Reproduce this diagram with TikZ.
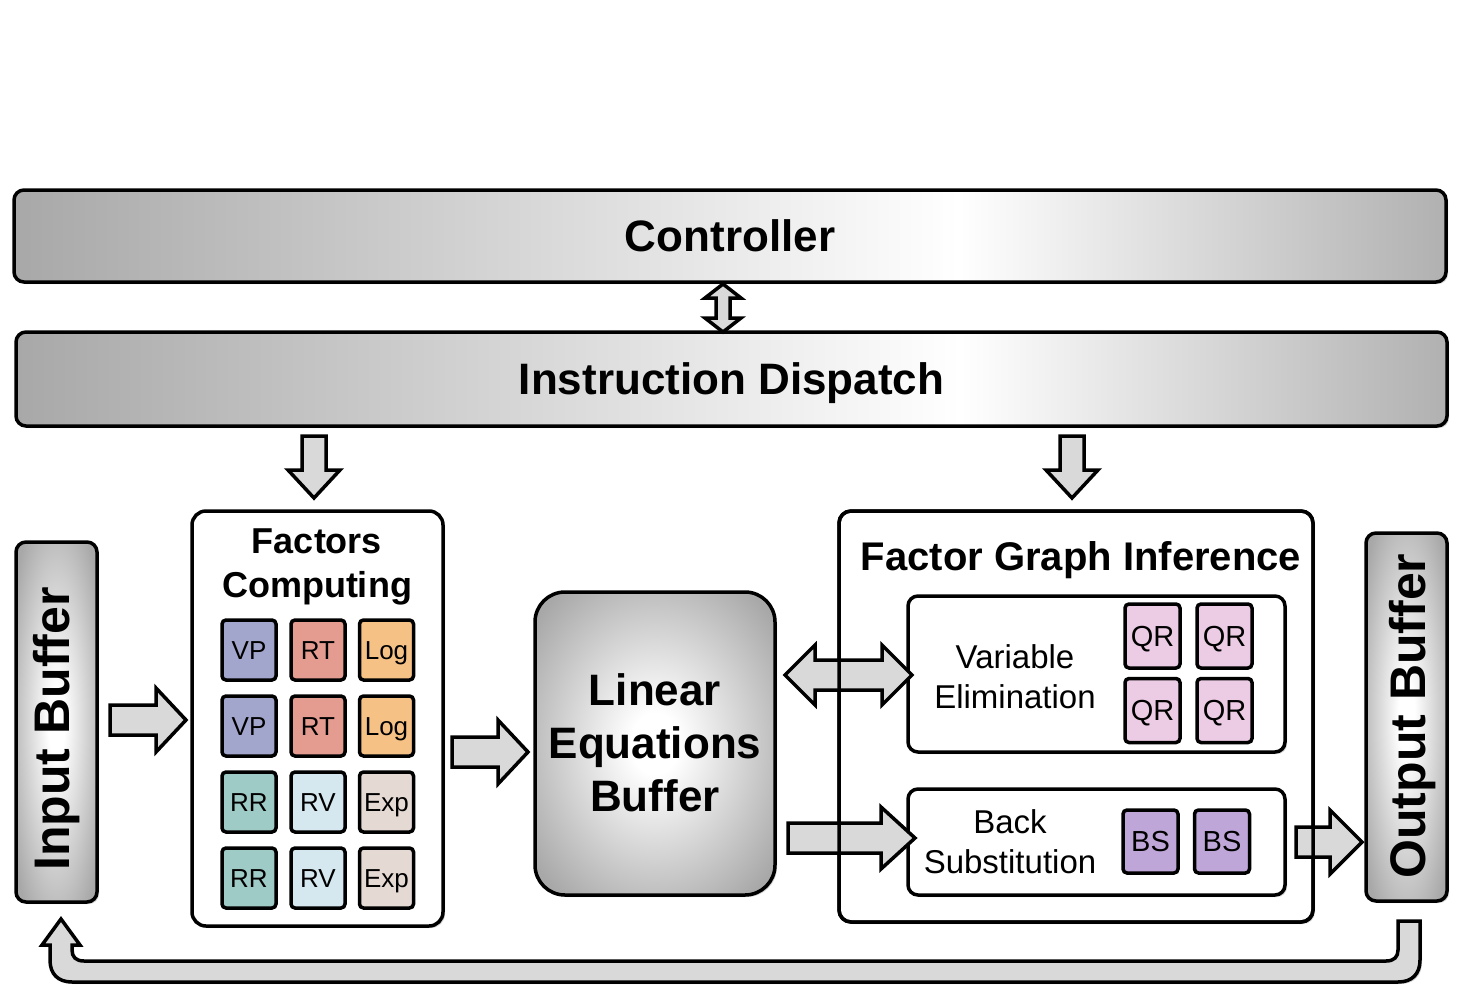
\documentclass[tikz,border=0pt]{standalone}
\usepackage{fontspec}
\setmainfont{Liberation Sans}
\usetikzlibrary{calc,shadows}
\definecolor{cVP}{HTML}{A3A6CC}
\definecolor{cRT}{HTML}{E49C90}
\definecolor{cLog}{HTML}{F6C185}
\definecolor{cRR}{HTML}{9FCBC7}
\definecolor{cRV}{HTML}{D5E8EF}
\definecolor{cExp}{HTML}{E5D9D3}
\definecolor{cQR}{HTML}{ECCCE4}
\definecolor{cBS}{HTML}{BEA6D8}
\definecolor{arrfill}{HTML}{D9D9D9}
\definecolor{gshade}{HTML}{A8A8A8}
\pgfdeclarehorizontalshading{barshade}{100bp}{color(0bp)=(gshade); color(25bp)=(gshade); color(58bp)=(white); color(75bp)=(gshade!90); color(100bp)=(gshade!90)}
\pgfdeclareradialshading{bufshade}{\pgfpoint{0bp}{0bp}}{color(0bp)=(white); color(5bp)=(white); color(32bp)=(gshade); color(50bp)=(gshade)}
\newcommand{\blkR}[5]{\draw[blk] let \p1=(#1), \p2=(#2) in
 (\x1,\y1+#3pt) -- (\x2-#5pt,\y1+#3pt) -- (\x2-#5pt,\y1+#4pt) -- (\x2,\y1) -- (\x2-#5pt,\y1-#4pt) -- (\x2-#5pt,\y1-#3pt) -- (\x1,\y1-#3pt) -- cycle;}
\newcommand{\blkD}[5]{\draw[blk] let \p1=(#1), \p2=(#2) in
 (\x1-#3pt,\y1) -- (\x1-#3pt,\y2+#5pt) -- (\x1-#4pt,\y2+#5pt) -- (\x1,\y2) -- (\x1+#4pt,\y2+#5pt) -- (\x1+#3pt,\y2+#5pt) -- (\x1+#3pt,\y1) -- cycle;}
\newcommand{\blkLR}[5]{\draw[blk] let \p1=(#1), \p2=(#2) in
 (\x1,\y1) -- (\x1+#5pt,\y1+#4pt) -- (\x1+#5pt,\y1+#3pt) -- (\x2-#5pt,\y1+#3pt) -- (\x2-#5pt,\y1+#4pt) -- (\x2,\y1) -- (\x2-#5pt,\y1-#4pt) -- (\x2-#5pt,\y1-#3pt) -- (\x1+#5pt,\y1-#3pt) -- (\x1+#5pt,\y1-#4pt) -- cycle;}
\newcommand{\blkUD}[5]{\draw[blk] let \p1=(#1), \p2=(#2) in
 (\x1,\y1) -- (\x1+#4pt,\y1-#5pt) -- (\x1+#3pt,\y1-#5pt) -- (\x1+#3pt,\y2+#5pt) -- (\x1+#4pt,\y2+#5pt) -- (\x1,\y2) -- (\x1-#4pt,\y2+#5pt) -- (\x1-#3pt,\y2+#5pt) -- (\x1-#3pt,\y1-#5pt) -- (\x1-#4pt,\y1-#5pt) -- cycle;}
\begin{document}
\begin{tikzpicture}[x=1pt,y=-1pt,
  shad/.style={drop shadow={opacity=0.35,shadow xshift=2pt,shadow yshift=-2pt}},
  capc/.style={text height=#1,text depth=0pt},
  bar/.style={draw,line width=3.5pt,rounded corners=10pt,shade,shading=barshade,shad,capc=31.5pt,
    font=\fontsize{44}{50}\selectfont\bfseries},
  buf/.style={draw,line width=3.5pt,rounded corners=10pt,shade,shading=bufshade,shad},
  panel/.style={draw,line width=3.5pt,fill=white,shad,outer sep=0pt},
  unit/.style={draw,line width=3.5pt,rounded corners=4pt,minimum width=54pt,minimum height=60pt,
    inner sep=0pt,capc=18.6pt,font=\fontsize{26}{30}\selectfont},
  qr/.style={draw,line width=3.5pt,rounded corners=4pt,minimum width=55pt,minimum height=64pt,
    inner sep=0pt,fill=cQR,capc=20.8pt,font=\fontsize{29}{32}\selectfont},
  bsu/.style={draw,line width=3.5pt,rounded corners=4pt,minimum width=55pt,minimum height=63pt,
    inner sep=0pt,fill=cBS,capc=20.8pt,font=\fontsize{29}{32}\selectfont},
  blk/.style={draw,line width=3.5pt,fill=arrfill,line join=miter,miter limit=10},
  lbl/.style={align=center,inner sep=0pt}]
\useasboundingbox (0,0) rectangle (1462,996);

% bars
\node[bar,minimum width=1432pt,minimum height=92pt] (ctrl) at (730,236) {Controller};
\node[bar,minimum width=1431pt,minimum height=94pt] (disp) at (731.5,379) {Instruction Dispatch};

% input / output buffers
\node[buf,minimum width=81pt,minimum height=360pt] (inbuf) at (56.5,722) {};
\node[lbl,capc=35.8pt,rotate=90,font=\fontsize{50}{56}\selectfont\bfseries] (inlbl) at (52,729) {Input Buffer};
\node[buf,minimum width=81pt,minimum height=368pt] (outbuf) at (1406.5,717) {};
\node[lbl,capc=35.8pt,rotate=90,font=\fontsize{50}{56}\selectfont\bfseries] (outlbl) at (1408,716) {Output Buffer};

% factors computing
\node[panel,rounded corners=14pt,minimum width=251pt,minimum height=415pt] (fc) at (317.5,718.5) {};
\node[lbl,font=\fontsize{36}{44}\selectfont\bfseries] (fct) at (317,567) {Factors\\Computing};
\node[unit,fill=cVP]  (u11) at (249,650) {VP};
\node[unit,fill=cRT]  (u12) at (318,650) {RT};
\node[unit,fill=cLog] (u13) at (386.5,650) {Log};
\node[unit,fill=cVP]  (u21) at (249,726) {VP};
\node[unit,fill=cRT]  (u22) at (318,726) {RT};
\node[unit,fill=cLog] (u23) at (386.5,726) {Log};
\node[unit,fill=cRR]  (u31) at (249,802) {RR};
\node[unit,fill=cRV]  (u32) at (318,802) {RV};
\node[unit,fill=cExp] (u33) at (386.5,802) {Exp};
\node[unit,fill=cRR]  (u41) at (249,878) {RR};
\node[unit,fill=cRV]  (u42) at (318,878) {RV};
\node[unit,fill=cExp] (u43) at (386.5,878) {Exp};

% linear equations buffer
\node[buf,rounded corners=30pt,minimum width=240pt,minimum height=303pt] (leb) at (655,743.5) {};
\node[lbl,font=\fontsize{44}{53}\selectfont\bfseries] (leblbl) at (655,743) {Linear\\Equations\\Buffer};

% factor graph inference
\node[panel,rounded corners=12pt,minimum width=474pt,minimum height=411pt] (fgi) at (1076,716.5) {};
\node[lbl,capc=28.6pt,font=\fontsize{40}{44}\selectfont\bfseries] (fgit) at (1081,556) {Factor Graph Inference};
\node[panel,rounded corners=10pt,minimum width=377pt,minimum height=156pt] (ve) at (1096.5,674) {};
\node[lbl,font=\fontsize{33}{40}\selectfont] (velbl) at (1015,677) {Variable\\Elimination};
\node[qr] (q1) at (1152.5,636) {QR};
\node[qr] (q2) at (1224.5,636) {QR};
\node[qr] (q3) at (1152.5,710.5) {QR};
\node[qr] (q4) at (1224.5,710.5) {QR};
\node[panel,rounded corners=10pt,minimum width=377pt,minimum height=106pt] (bsb) at (1096.5,842) {};
\node[lbl,font=\fontsize{33}{40}\selectfont] (bslbl) at (1010,842) {Back\\Substitution};
\node[bsu] (b1) at (1150.5,841.5) {BS};
\node[bsu] (b2) at (1222,841.5) {BS};

% arrow end points
\coordinate (cd1) at (723,284);   \coordinate (cd2) at (723,332);
\coordinate (dl1) at (314,436);   \coordinate (dl2) at (314,498);
\coordinate (dr1) at (1072,436);  \coordinate (dr2) at (1072,498);
\coordinate (ia1) at (110,720);   \coordinate (ia2) at (186,720);
\coordinate (fa1) at (452,752);   \coordinate (fa2) at (528,752);
\coordinate (va1) at (785,675);   \coordinate (va2) at (912,675);
\coordinate (ba1) at (788,838);   \coordinate (ba2) at (915,838);
\coordinate (oa1) at (1296,842);  \coordinate (oa2) at (1362,842);

\blkUD{cd1}{cd2}{7}{18}{14}
\blkD{dl1}{dl2}{12}{26}{28}
\blkD{dr1}{dr2}{12}{26}{28}
\blkR{ia1}{ia2}{15}{32}{30}
\blkR{fa1}{fa2}{15}{32}{30}
\blkLR{va1}{va2}{15}{30}{30}
\blkR{ba1}{ba2}{15}{31}{34}
\blkR{oa1}{oa2}{15}{32}{32}

% FGI border on top of the arrows
\draw[line width=3.5pt,rounded corners=12pt] (fgi.south west) rectangle (fgi.north east);

% feedback arrow from output buffer back to input buffer
\draw[blk,shad] (1420,921) -- (1420,960) .. controls (1420,974) and (1412,982) .. (1398,982)
  -- (72,982) .. controls (58,982) and (50,974) .. (50,960) -- (50,945) -- (42,945) -- (61,919)
  -- (80,945) -- (72,945) -- (72,950) .. controls (72,957) and (76,961) .. (84,961)
  -- (1386,961) .. controls (1394,961) and (1398,957) .. (1398,950) -- (1398,921) -- cycle;
\end{tikzpicture}
\end{document}
